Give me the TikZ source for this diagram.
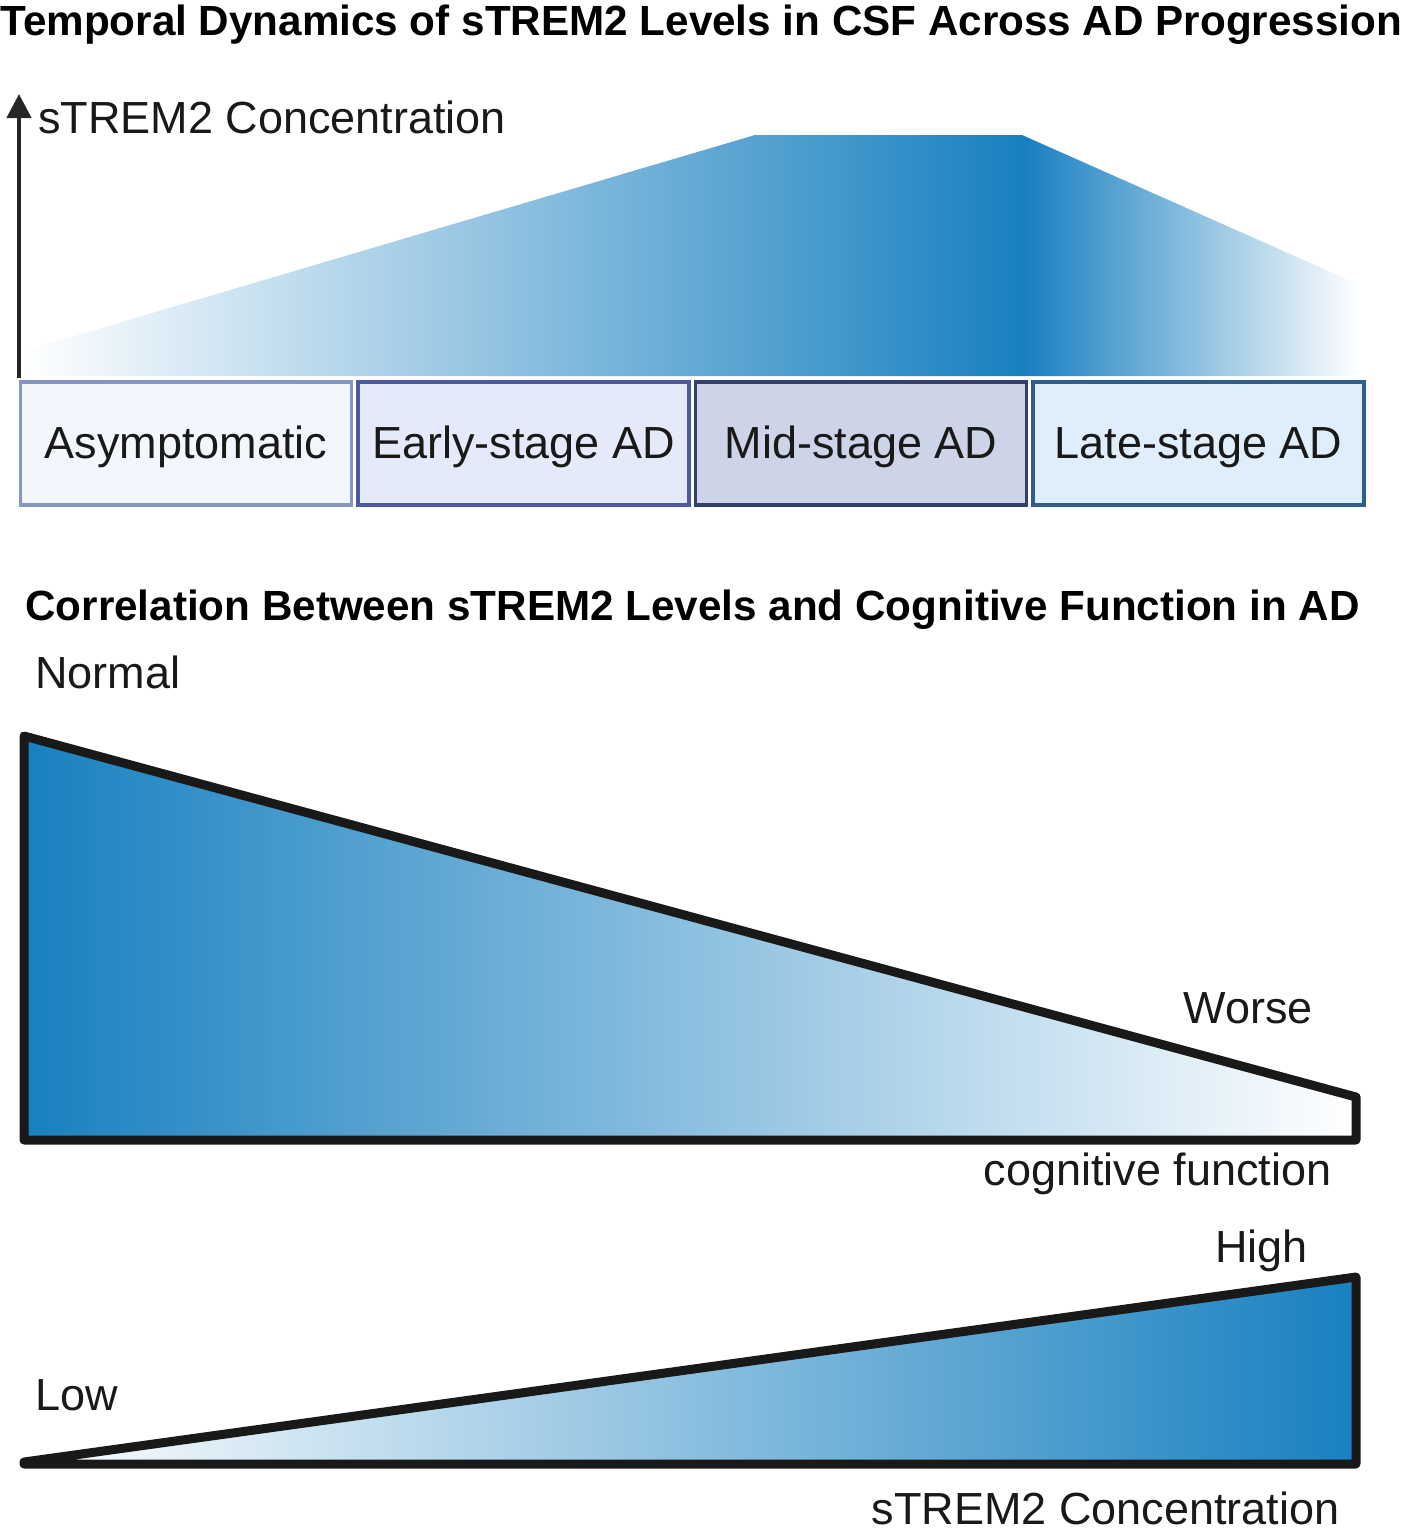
\documentclass[tikz,border=0pt]{standalone}
\usepackage{fontspec}
\setmainfont{Liberation Sans}
\usetikzlibrary{arrows.meta,positioning}
\definecolor{sblue}{RGB}{24,128,192}
\definecolor{asymline}{RGB}{133,150,192}
\definecolor{asymfill}{RGB}{243,246,252}
\definecolor{earlyline}{RGB}{75,90,158}
\definecolor{earlyfill}{RGB}{228,234,249}
\definecolor{midline}{RGB}{51,64,110}
\definecolor{midfill}{RGB}{206,212,232}
\definecolor{lateline}{RGB}{47,93,140}
\definecolor{latefill}{RGB}{224,237,250}
\pgfdeclarehorizontalshading{risefall}{100bp}{color(0bp)=(white); color(25bp)=(white); color(62.5bp)=(sblue); color(75bp)=(white); color(100bp)=(white)}
\begin{document}
\begin{tikzpicture}[x=0.5pt,y=-0.5pt,>=Latex,
ttl/.style={font=\bfseries\fontsize{21.1}{25}\selectfont,inner sep=0,anchor=base west},
lbl/.style={font=\fontsize{22.5}{27}\selectfont,inner sep=0,text=black!90},
stage/.style={lbl,line width=1.8pt,outer sep=0pt,minimum width=165.5pt,minimum height=61.5pt,text height=19pt,text depth=4.5pt},
wedge/.style={draw=black!90,line width=4.5pt,line join=round},
yaxis/.style={-{Triangle[length=12pt,width=12pt]},line width=2.2pt,draw=black!85,fill=black!85}]
\useasboundingbox (0,0) rectangle (1406,1533);
\node[ttl] (title) at (0,35) {Temporal Dynamics of sTREM2 Levels in CSF Across AD Progression};
\shade[shading=risefall] (20,376) -- (20,352) -- (755,135) -- (1022,135) -- (1360,285) -- (1360,376) -- cycle;
\coordinate (origin) at (19,378);
\coordinate (ytop) at (19,94);
\draw[yaxis] (origin) -- (ytop);
\node[lbl,anchor=base west] (conc) at (38,133) {sTREM2 Concentration};
\node[stage,draw=asymline,fill=asymfill] (asym) at (186,443.5) {Asymptomatic};
\node[stage,draw=earlyline,fill=earlyfill,right=3.25pt of asym] (early) {Early-stage AD};
\node[stage,draw=midline,fill=midfill,right=3.25pt of early] (mid) {Mid-stage AD};
\node[stage,draw=lateline,fill=latefill,right=3.25pt of mid] (late) {Late-stage AD};
\node[ttl] (corr) at (25,620) {Correlation Between sTREM2 Levels and Cognitive Function in AD};
\node[lbl,anchor=base west] (normal) at (35,688) {Normal};
\draw[wedge,left color=sblue,right color=white] (24,736) -- (1356,1097) -- (1356,1140) -- (24,1140) -- cycle;
\node[lbl,anchor=base east] (worse) at (1313,1023) {Worse};
\node[lbl,anchor=base east] (cog) at (1332,1185) {cognitive function};
\node[lbl,anchor=base east] (high) at (1308,1262) {High};
\draw[wedge,left color=white,right color=sblue] (24,1462) -- (1356,1277) -- (1356,1464) -- (24,1464) -- cycle;
\node[lbl,anchor=base west] (low) at (35,1410) {Low};
\node[lbl,anchor=base east] (level) at (1340,1524) {sTREM2 Concentration};
\end{tikzpicture}
\end{document}
